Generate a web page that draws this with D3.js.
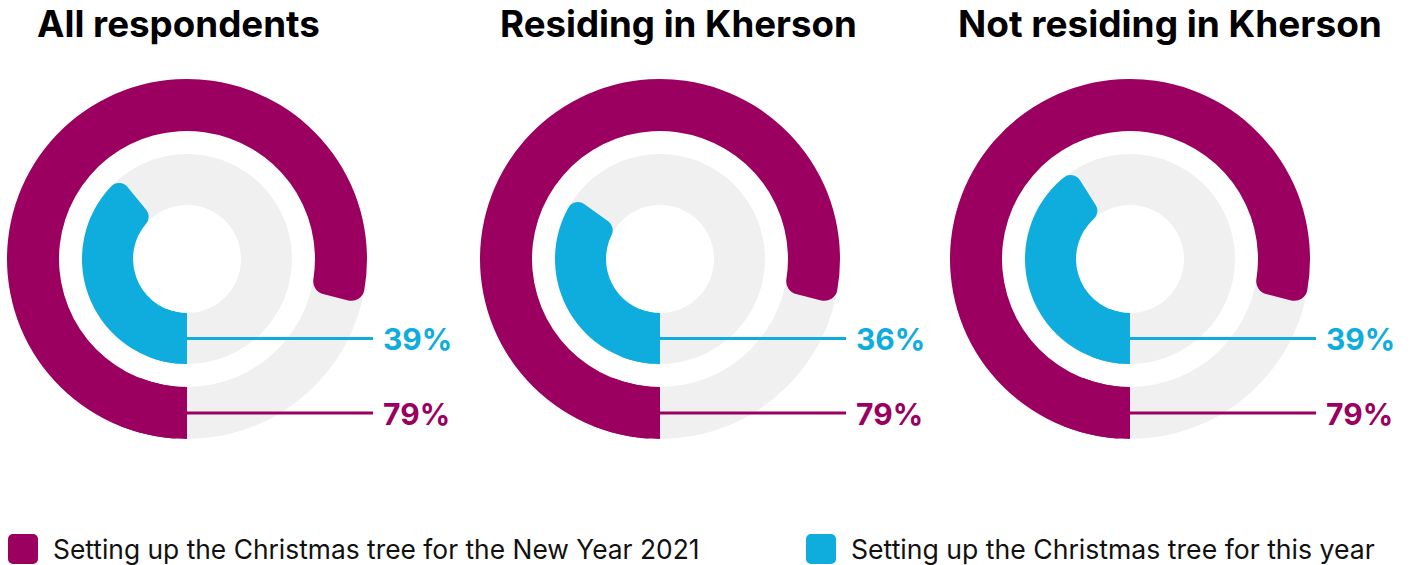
<!DOCTYPE html>
<html><head><meta charset="utf-8">
<script src="https://cdn.jsdelivr.net/npm/d3@7"></script>
<style>body{margin:0;background:#fff} svg{display:block}</style></head>
<body>
<svg id="c" width="1411" height="565"></svg>
<script>
// ---- data ----
const groups = ["All respondents", "Residing in Kherson", "Not residing in Kherson"];
const seriesNames = ["Setting up the Christmas tree for the New Year 2021", "Setting up the Christmas tree for this year"];
const valuesNewYear2021 = [79, 79, 79];
const valuesThisYear = [39, 35, 41];
const labelsNewYear2021 = ["79%", "79%", "79%"];
const labelsThisYear = ["39%", "36%", "39%"];
const seriesColors = ["#9b0060", "#0eaddd"];

// ---- layout ----
const svg = d3.select("#c");
const centersX = [187, 660, 1130];
const cy = 259;
const titleLeft = [37, 500, 958];
const titleWidth = [283, 357, 424];
const legendX = [8, 806];
const legendTextWidth = [647, 524];
const trackColor = "#f0f0f0";
const FONT = "Inter, 'Noto Sans', sans-serif";

const angle = d3.scaleLinear().domain([0, 100]).range([Math.PI, 3 * Math.PI]);

const rings = [
  {inner: 128, outer: 180, vals: valuesNewYear2021, labels: labelsNewYear2021, color: seriesColors[0], cr: 13},
  {inner: 54, outer: 105, vals: valuesThisYear, labels: labelsThisYear, color: seriesColors[1], cr: 11}
];

groups.forEach((name, i) => {
  const g = svg.append("g").attr("transform", `translate(${centersX[i]},${cy})`);
  rings.forEach(r => {
    const track = d3.arc().innerRadius(r.inner).outerRadius(r.outer).startAngle(0).endAngle(2 * Math.PI);
    g.append("path").attr("d", track()).attr("fill", trackColor);
  });
  rings.forEach(r => {
    const v = r.vals[i];
    const rounded = d3.arc().innerRadius(r.inner).outerRadius(r.outer).cornerRadius(r.cr)
      .startAngle(angle(0)).endAngle(angle(v));
    g.append("path").attr("d", rounded()).attr("fill", r.color);
    const square = d3.arc().innerRadius(r.inner).outerRadius(r.outer)
      .startAngle(angle(0)).endAngle(angle(Math.min(v / 2, 6)));
    g.append("path").attr("d", square()).attr("fill", r.color);
  });
  rings.forEach(r => {
    const ym = (r.inner + r.outer) / 2;
    g.append("line").attr("x1", 0).attr("x2", 186).attr("y1", ym).attr("y2", ym)
      .attr("stroke", r.color).attr("stroke-width", 3);
    g.append("text").attr("x", 196).attr("y", ym + 11.5)
      .attr("font-family", FONT).attr("font-weight", 700).attr("font-size", 30)
      .attr("fill", r.color).text(r.labels[i]);
  });
  // title
  const t = svg.append("text").attr("x", titleLeft[i]).attr("y", 37)
    .attr("font-family", FONT).attr("font-weight", 700).attr("font-size", 34)
    .attr("fill", "#000").text(name);
  const w = t.node().getComputedTextLength();
  t.attr("font-size", 34 * titleWidth[i] / w);
});

// legend
seriesNames.forEach((s, k) => {
  svg.append("rect").attr("x", legendX[k]).attr("y", 534).attr("width", 30).attr("height", 30)
    .attr("rx", 5).attr("fill", seriesColors[k]);
  const t = svg.append("text").attr("x", legendX[k] + 45).attr("y", 559)
    .attr("font-family", FONT).attr("font-size", 24).attr("fill", "#111").text(s);
  const w = t.node().getComputedTextLength();
  t.attr("font-size", 24 * legendTextWidth[k] / w);
});
</script>
</body></html>
